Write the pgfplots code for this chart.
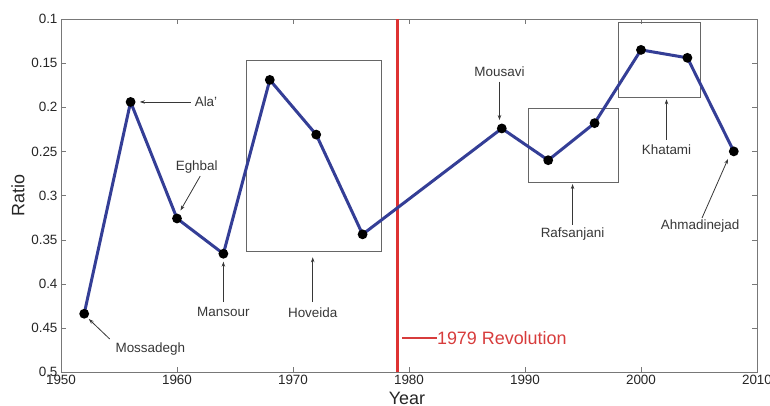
\documentclass[border=0pt]{standalone}
\usepackage{fontspec}
\setmainfont{Liberation Sans}
\usepackage{pgfplots}
\pgfplotsset{compat=1.18}
\usetikzlibrary{arrows.meta}
\definecolor{lineblue}{RGB}{52,62,150}
\definecolor{revred}{RGB}{222,50,50}
\definecolor{txtred}{RGB}{215,60,60}
\definecolor{annot}{RGB}{55,55,55}
\definecolor{axgray}{RGB}{120,120,120}
\newcommand\af{\fontsize{13.5}{15}\selectfont}
\begin{document}
\begin{tikzpicture}
\useasboundingbox (-61bp,-34bp) rectangle (709bp,372bp);
\begin{axis}[
  at={(0,0)}, anchor=south west,
  scale only axis, width=696bp, height=353bp,
  xmin=1950, xmax=2010, ymin=0.1, ymax=0.5, y dir=reverse,
  xtick={1950,1960,1970,1980,1990,2000,2010},
  ytick={0.1,0.15,0.2,0.25,0.3,0.35,0.4,0.45,0.5},
  tick align=inside, major tick length=5bp,
  axis line style={axgray}, tick style={axgray},
  ticklabel style={font=\fontsize{13.5}{15}\selectfont, text=black!85},
  /pgf/number format/1000 sep={},
  /pgf/number format/assume math mode=true,
  xlabel={Year}, ylabel={Ratio},
  label style={font=\fontsize{18}{20}\selectfont, text=black!85},
  xlabel style={at={(axis description cs:0.497,-0.0737)}, anchor=center},
  ylabel style={at={(axis description cs:-0.0618,0.5)}, anchor=center},
]
% boxes
\draw[black!60, line width=1bp] (1966,0.1465) rectangle (1977.6,0.364);
\draw[black!60, line width=1bp] (1990.3,0.201) rectangle (1998.1,0.285);
\draw[black!60, line width=1bp] (1998.1,0.1045) rectangle (2005.1,0.189);
% revolution line
\draw[revred, line width=2.5bp] (1979,0.1) -- (1979,0.5);
\addplot[lineblue, line width=3bp, mark=*, mark size=3.3bp,
  mark options={fill=black, draw=black}] coordinates {
  (1952,0.434) (1956,0.194) (1960,0.326) (1964,0.366) (1968,0.169)
  (1972,0.231) (1976,0.344) (1988,0.224) (1992,0.260) (1996,0.218)
  (2000,0.135) (2004,0.144) (2008,0.250)};
% annotations
\tikzset{ann/.style={annot, line width=0.8bp, -{Stealth[length=5bp,width=3.5bp]}}}
\node[annot, font=\af] at (1962.5,0.194) {Ala'};
\draw[ann] (1961.2,0.194) -- (1956.8,0.194);
\node[annot, font=\af] at (1961.7,0.268) {Eghbal};
\draw[ann] (1962.0,0.278) -- (1960.3,0.317);
\node[annot, font=\af] at (1957.7,0.474) {Mossadegh};
\draw[ann] (1954.2,0.4626) -- (1952.4,0.440);
\node[annot, font=\af] at (1964.0,0.432) {Mansour};
\draw[ann] (1964,0.4207) -- (1964,0.375);
\node[annot, font=\af] at (1971.7,0.433) {Hoveida};
\draw[ann] (1971.7,0.4207) -- (1971.7,0.370);
\node[annot, font=\af] at (1987.8,0.160) {Mousavi};
\draw[ann] (1987.8,0.171) -- (1987.8,0.2145);
\node[annot, font=\af] at (1994.1,0.3436) {Rafsanjani};
\draw[ann] (1994.1,0.333) -- (1994.1,0.287);
\node[annot, font=\af] at (2002.2,0.2485) {Khatami};
\draw[ann] (2002.2,0.237) -- (2002.2,0.191);
\node[annot, font=\af] at (2005.1,0.3346) {Ahmadinejad};
\draw[ann] (2005.26,0.3255) -- (2007.5,0.2586);
\draw[txtred, line width=1.2bp] (1979.4,0.4615) -- (1982.4,0.4615);
\node[txtred, font=\fontsize{18}{20}\selectfont, anchor=west, inner sep=0pt] at (1982.4,0.4615) {1979 Revolution};
\end{axis}
\end{tikzpicture}
\end{document}
